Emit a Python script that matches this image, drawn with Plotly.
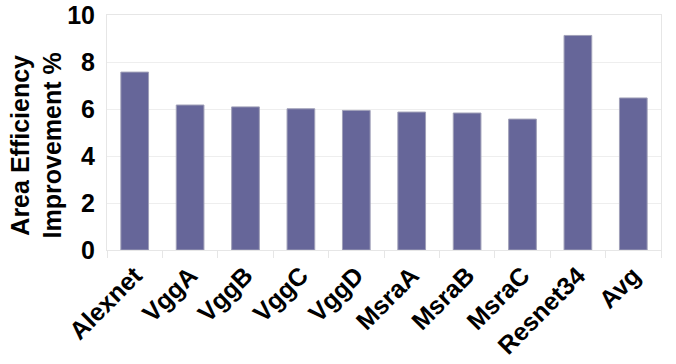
import plotly.graph_objects as go

categories = ["Alexnet", "VggA", "VggB", "VggC", "VggD", "MsraA", "MsraB", "MsraC", "Resnet34", "Avg"]
values = [7.57, 6.17, 6.09, 6.01, 5.94, 5.87, 5.83, 5.57, 9.13, 6.47]
y_ticks = [0, 2, 4, 6, 8, 10]
y_title = "Area Efficiency<br>Improvement %"

fig = go.Figure(go.Bar(
    x=categories, y=values,
    marker=dict(color="#666699", line=dict(color="#a0a0b8", width=1)),
    width=0.5,
))

font = "Liberation Sans, Arial, sans-serif"
fig.update_layout(
    width=676, height=364,
    margin=dict(l=107, r=15, t=15, b=114),
    plot_bgcolor="white", paper_bgcolor="white",
    showlegend=False,
    font=dict(family=font, color="black"),
)
fig.update_xaxes(
    automargin=False,
    tickangle=-45,
    tickfont=dict(family=font, size=25, color="black", weight="bold"),
    tickson="boundaries", ticks="outside", ticklen=7, tickcolor="#e6e6e6",
    showline=True, linecolor="#e6e6e6", mirror=True,
    showgrid=False,
)
fig.update_yaxes(
    automargin=False,
    range=[0, 10], tickvals=y_ticks,
    tickfont=dict(family=font, size=25, color="black", weight="bold"),
    showgrid=True, gridcolor="#eeeeee",
    showline=True, linecolor="#e6e6e6", mirror=True,
    zeroline=False,
    ticks="", ticklabelstandoff=6,
)
fig.add_annotation(
    text=y_title, textangle=-90,
    xref="paper", yref="paper", x=0, y=0.445,
    xanchor="center", yanchor="middle", xshift=-71,
    showarrow=False,
    font=dict(family=font, size=25, color="black", weight="bold"),
)
fig.write_html(
    "out.html",
    config={"displayModeBar": False},
    post_script="document.body.style.margin='0';document.body.style.overflow='hidden';",
)
